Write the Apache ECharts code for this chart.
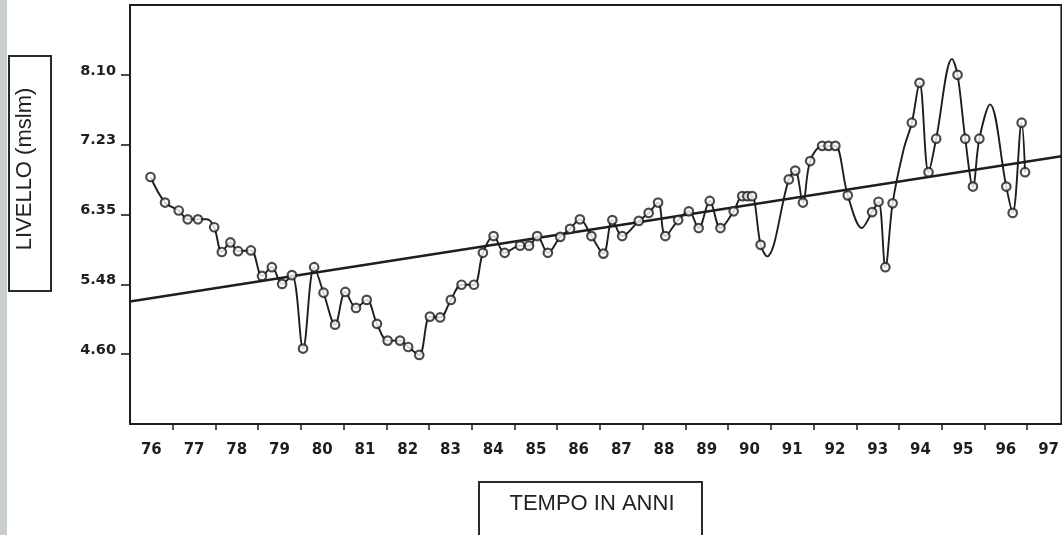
<!DOCTYPE html>
<html><head><meta charset="utf-8">
<script src="https://cdn.jsdelivr.net/npm/echarts@6/dist/echarts.min.js"></script>
<style>html,body{margin:0;padding:0;background:#fff}#c{width:1062px;height:535px}</style>
</head><body><div id="c"></div>
<script>
// ---- data ----
const yearLabels = ['76','77','78','79','80','81','82','83','84','85','86','87','88','89','90','91','92','93','94','95','96','97'];
const yTickValues = [4.6, 5.475, 6.35, 7.225, 8.1];
const yTickLabels = ['4.60','5.48','6.35','7.23','8.10'];
const obsYears = [76.48,76.82,77.14,77.35,77.59,77.97,78.15,78.35,78.53,78.83,79.09,79.32,79.56,79.79,80.05,80.31,80.53,80.80,81.04,81.29,81.54,81.78,82.03,82.32,82.51,82.77,83.02,83.26,83.51,83.76,84.05,84.26,84.51,84.77,85.13,85.34,85.53,85.78,86.07,86.30,86.53,86.80,87.08,87.29,87.52,87.91,88.14,88.36,88.53,88.83,89.08,89.31,89.57,89.82,90.13,90.33,90.45,90.56,90.76,91.42,91.57,91.75,91.92,92.20,92.35,92.51,92.80,93.37,93.52,93.68,93.85,94.30,94.48,94.69,94.87,95.37,95.55,95.73,95.88,96.51,96.66,96.87,96.95];
const obsLevels = [6.82,6.50,6.40,6.29,6.29,6.19,5.88,6.00,5.89,5.90,5.58,5.69,5.48,5.59,4.67,5.69,5.37,4.97,5.38,5.18,5.28,4.98,4.77,4.77,4.69,4.59,5.07,5.06,5.28,5.47,5.47,5.87,6.08,5.87,5.96,5.96,6.08,5.87,6.07,6.17,6.29,6.08,5.86,6.28,6.08,6.27,6.37,6.50,6.08,6.28,6.39,6.18,6.52,6.18,6.39,6.58,6.58,6.58,5.97,6.79,6.90,6.50,7.02,7.21,7.21,7.21,6.59,6.38,6.51,5.69,6.49,7.50,8.00,6.88,7.30,8.10,7.30,6.70,7.30,6.70,6.37,7.50,6.88];
// unmarked turning points of the drawn curve
const curveOnlyYears = [77.80,90.91,93.13,94.11,95.24,96.13];
const curveOnlyLevels = [6.29,5.825,6.18,7.17,8.30,7.73];
const trendYears = [76, 97.8];
const trendLevels = [5.26, 7.08];

// ---- build ----
const obs = obsYears.map((x,i)=>[x, obsLevels[i]]);
const curve = obs.concat(curveOnlyYears.map((x,i)=>[x, curveOnlyLevels[i]])).sort((a,b)=>a[0]-b[0]);
const trend = trendYears.map((x,i)=>[x, trendLevels[i]]);
const xTickValues = yearLabels.slice(1).map(s=>Number(s));
const xLabelValues = yearLabels.map(s=>Number(s)+0.5);
const INK = '#1e1e1e';

const chart = echarts.init(document.getElementById('c'), null, {renderer:'canvas'});
chart.setOption({
  animation:false,
  backgroundColor:'#ffffff',
  grid:{left:130, top:5, right:0, bottom:111, show:true, borderColor:INK, borderWidth:2, backgroundColor:'transparent'},
  xAxis:{
    type:'value', min:76, max:97.8,
    axisLine:{show:true, lineStyle:{color:INK, width:2}},
    axisTick:{show:true, inside:false, length:6, customValues:xTickValues, lineStyle:{color:INK, width:1.5}},
    axisLabel:{show:true, customValues:xLabelValues, margin:19, color:INK, fontFamily:'DejaVu Sans', fontWeight:'bold', fontSize:15,
      formatter:function(v){return yearLabels[Math.floor(v)-76] || '';}},
    splitLine:{show:false}
  },
  yAxis:{
    type:'value', min:3.725, max:8.975,
    axisLine:{show:true, lineStyle:{color:INK, width:2}},
    axisTick:{show:true, inside:false, length:9, customValues:yTickValues, lineStyle:{color:INK, width:1.6}},
    splitLine:{show:false},
    axisLabel:{show:true, customValues:yTickValues, margin:14, color:INK, fontFamily:'DejaVu Sans', fontWeight:'bold', fontSize:14.5,
      verticalAlign:'bottom', lineHeight:8,
      formatter:function(v){let best=0; yTickValues.forEach((t,i)=>{if(Math.abs(t-v)<Math.abs(yTickValues[best]-v)) best=i;}); return yTickLabels[best];}}
  },
  series:[
    {type:'line', data:trend, symbol:'none', lineStyle:{color:INK, width:2.4}, z:2},
    {type:'line', data:curve, symbol:'none', smooth:0.35, lineStyle:{color:INK, width:1.9}, z:3},
    {type:'scatter', data:obs, symbol:'circle', symbolSize:8.5,
     itemStyle:{color:'#ffffff', borderColor:INK, borderWidth:2.2}, z:4}
  ],
  graphic:[
    {type:'rect', left:0, top:0, shape:{width:7, height:535}, style:{fill:'#c8cfcc'}, silent:true},
    {type:'rect', shape:{x:9, y:56, width:42, height:235}, style:{fill:'#fff', stroke:'#2a2a2a', lineWidth:2}},
    {type:'text', x:25, y:169, rotation:Math.PI/2, style:{text:'LIVELLO (mslm)', fill:'#222', font:'22px "Liberation Sans", Arial, sans-serif', textAlign:'center', textVerticalAlign:'middle'}},
    {type:'rect', shape:{x:479, y:482, width:223, height:70}, style:{fill:'#fff', stroke:'#2a2a2a', lineWidth:2}},
    {type:'text', x:592, y:504, style:{text:'TEMPO IN ANNI', fill:'#222', font:'22px "Liberation Sans", Arial, sans-serif', textAlign:'center', textVerticalAlign:'middle'}}
  ]
});
</script>
</body></html>
